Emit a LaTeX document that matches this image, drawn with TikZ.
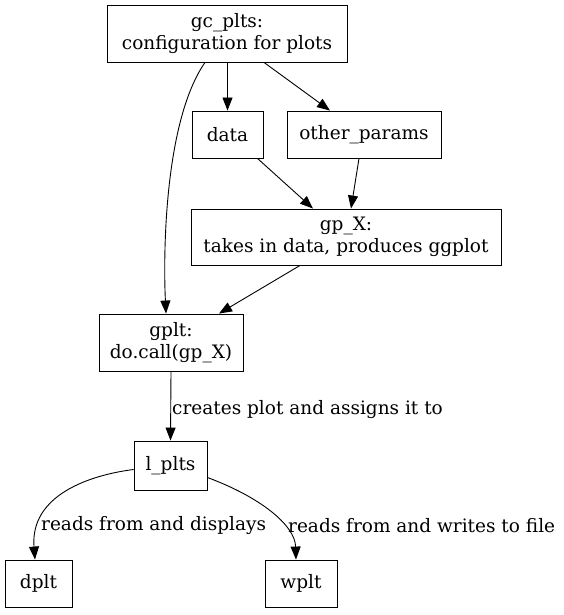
\documentclass[tikz,border=0pt]{standalone}
\usepackage{fontspec}
\setmainfont{DejaVu Serif}
\usetikzlibrary{arrows.meta}
\begin{document}
\begin{tikzpicture}[x=1pt,y=-1pt,
  box/.style={draw,line width=0.9pt,inner sep=0pt,align=center,font=\fontsize{18.5}{22}\selectfont},
  lbl/.style={font=\fontsize{18.5}{22}\selectfont,inner sep=0pt},
  edge/.style={line width=0.9pt,-{Triangle[length=13pt,width=10pt]}}]
\useasboundingbox (0,0) rectangle (563,615);
\node[box,minimum width=240pt,minimum height=57pt] (gc) at (227,33.5) {gc\_plts:\\ configuration for plots};
\node[box,minimum width=71pt,minimum height=47pt] (data) at (227.5,134.5) {data};
\node[box,minimum width=154pt,minimum height=47pt] (op) at (364,134.5) {other\_params};
\node[box,minimum width=310pt,minimum height=56pt] (gpx) at (346,237) {gp\_X:\\ takes in data, produces ggplot};
\node[box,minimum width=144pt,minimum height=57pt] (gplt) at (171,342.5) {gplt:\\ do.call(gp\_X)};
\node[box,minimum width=73pt,minimum height=49pt] (lp) at (170.5,465.5) {l\_plts};
\node[box,minimum width=67pt,minimum height=47pt] (dplt) at (38.5,583.5) {dplt};
\node[box,minimum width=72pt,minimum height=47pt] (wplt) at (301,583.5) {wplt};
\draw[edge] (gc.south -| data.north) -- (data.north);
\draw[edge] (gc.south) ++(37,0) -- (op.north -| 330,0) coordinate (opt);
\draw[edge] (gc.south) ++(-22,0) .. controls (165,120) and (163,250) .. (gplt.north -| 166,0);
\draw[edge] (data.south) ++(30,0) -- ([xshift=-33pt]gpx.north);
\draw[edge] (op.south) ++(-5,0) -- ([xshift=5pt]gpx.north);
\draw[edge] (gpx.south) ++(-46,0) -- ([xshift=48pt]gplt.north);
\draw[edge] (gplt.south) -- node[lbl,right,xshift=1pt,yshift=-4pt] {creates plot and assigns it to} (lp.north);
\draw[edge] (lp.west) ++(0,4) .. controls (90,475) and (30,495) .. (dplt.north -| 35,0);
\draw[edge] (lp.east) ++(0,12) .. controls (260,497) and (295,525) .. (wplt.north -| 296,0);
\node[lbl,anchor=west] (l1) at (41,526) {reads from and displays};
\node[lbl,anchor=west] (l2) at (288,526) {reads from and writes to file};
\end{tikzpicture}
\end{document}
